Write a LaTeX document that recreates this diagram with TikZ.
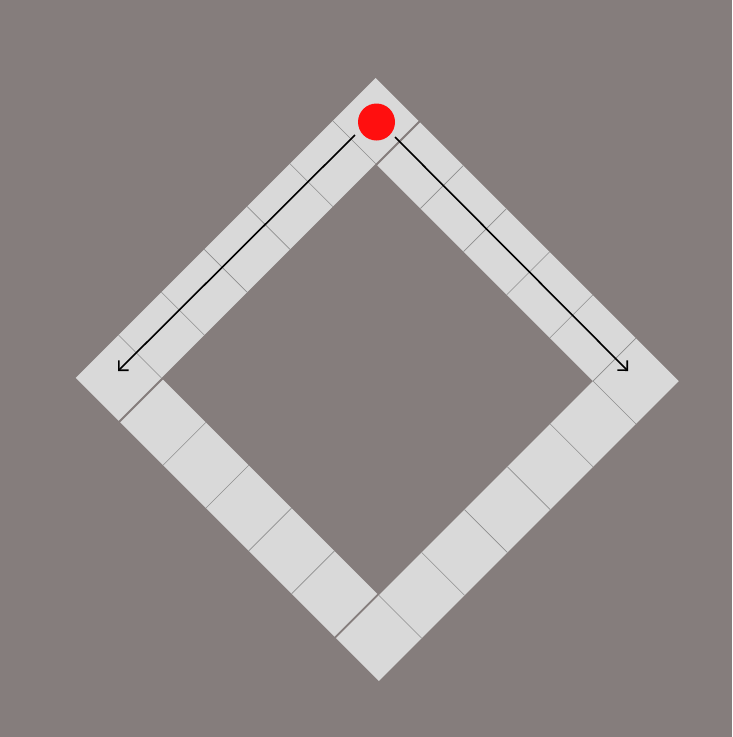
\documentclass[tikz,border=0pt]{standalone}
\usetikzlibrary{arrows.meta}
\definecolor{bg}{HTML}{857D7C}
\definecolor{tile}{HTML}{D9D9D9}
\definecolor{sep}{HTML}{8E8E8E}
\definecolor{tok}{HTML}{FF0F0F}
\newcommand\armfill[4]{\fill[tile] (#1,#2) -- (#3,#2) -- (#3,#4) -- (#1,#4) -- cycle;}
\begin{document}
\begin{tikzpicture}[x=1pt,y=-1pt,
  sepline/.style={draw=sep,line width=0.6pt},
  move/.style={draw=black,line width=1.6pt,-{Straight Barb[length=7pt,width=14pt]}}]
\fill[bg] (0,0) rectangle (732,737);
\useasboundingbox (0,0) rectangle (732,737);
\begin{scope}[shift={(375.7pt,-78pt)},x={(0.70711pt,-0.70711pt)},y={(-0.70711pt,-0.70711pt)}]
\def\s{60.6}\def\g{2.2}
% upper-left arm (7 tiles)
\armfill{0}{0}{\s}{7*\s}
\foreach \k in {1,...,6} \draw[sepline] (0,\k*\s) -- (\s,\k*\s);
% lower-left arm (5 tiles)
\armfill{\s+\g}{6*\s}{6*\s+\g}{7*\s}
\foreach \k in {1,...,4} \draw[sepline] (\s+\g+\k*\s,6*\s) -- (\s+\g+\k*\s,7*\s);
% lower-right arm (7 tiles)
\armfill{6*\s+2*\g}{0}{7*\s+2*\g}{7*\s}
\foreach \k in {1,...,6} \draw[sepline] (6*\s+2*\g,\k*\s) -- (7*\s+2*\g,\k*\s);
% upper-right arm (5 tiles)
\armfill{\s+\g}{0}{6*\s+2*\g}{\s}
\foreach \k in {1,...,5} \draw[sepline] (\s+\g+\k*\s+\k*\g/5,0) -- (\s+\g+\k*\s+\k*\g/5,\s);
\end{scope}
\node[circle,fill=tok,minimum size=37pt,inner sep=0pt] (token) at (376.5,122) {};
\coordinate (l0) at (355,135);
\coordinate (l1) at (118,371);
\coordinate (r0) at (395,137);
\coordinate (r1) at (628,371);
\draw[move] (l0) -- (l1);
\draw[move] (r0) -- (r1);
\end{tikzpicture}
\end{document}
